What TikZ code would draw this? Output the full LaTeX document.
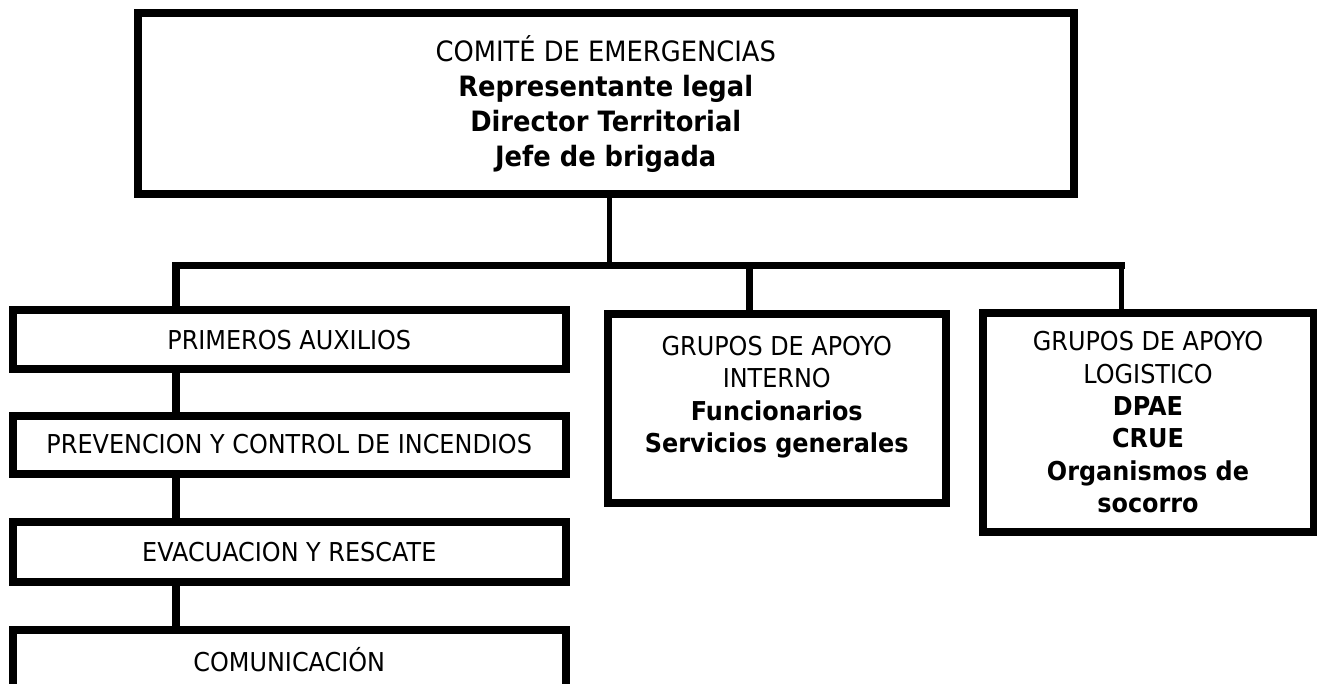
\documentclass[tikz,border=0pt]{standalone}
\usepackage{fontspec}
\setmainfont{DejaVu Sans}[FakeStretch=0.92]
\usetikzlibrary{positioning, calc}

\begin{document}
\begin{tikzpicture}[x=1pt, y=-1pt,
          every node/.style={align=center, inner sep=0pt},
          box/.style={draw, rectangle, line width=8pt},
          small/.style={font=\fontsize{26}{32.4}\selectfont},
          link/.style={line width=7.5pt},
          thinlink/.style={line width=5pt}]
          \useasboundingbox (0,0) rectangle (1317,684);

          \node[box, minimum width=936.5pt, minimum height=181.5pt,
                font=\fontsize{28}{35}\selectfont] (comite) at (605.75,103.75)
                {COMITÉ DE EMERGENCIAS\\ \textbf{Representante legal}\\
                 \textbf{Director Territorial}\\ \textbf{Jefe de brigada}};

          \node[box, small, minimum width=552.5pt, minimum height=59.5pt] (auxilios) at (289.25,339.75) {PRIMEROS AUXILIOS};
          \node[box, small, minimum width=552.5pt, minimum height=58pt] (incendios) at (289.25,444.5) {PREVENCION Y CONTROL DE INCENDIOS};
          \node[box, small, minimum width=552.5pt, minimum height=60pt] (evacuacion) at (289.25,552) {EVACUACION Y RESCATE};
          \node[box, small, minimum width=552.5pt, minimum height=59pt] (comunicacion) at (289.25,659.5) {COMUNICACIÓN};

          \node[box, minimum width=337.5pt, minimum height=189pt] (interno) at (776.75,408.5) {};
          \node[small, anchor=north] (internotxt) at ([yshift=-26pt]interno.north)
                {GRUPOS DE APOYO\\ INTERNO\\ \textbf{Funcionarios}\\ \textbf{Servicios generales}};

          \node[box, small, minimum width=331pt, minimum height=218.5pt] (logistico) at (1148,422.25)
                {GRUPOS DE APOYO\\ LOGISTICO\\ \textbf{DPAE}\\ \textbf{CRUE}\\
                 \textbf{Organismos de}\\ \textbf{socorro}};

          \coordinate (bus) at (609,265.5);
          \coordinate (busleft) at (176,265.5);
          \coordinate (busmid) at (749.5,265.5);
          \coordinate (busright) at (1121.5,265.5);

          \draw[thinlink] (comite.south -| bus) -- (bus);
          \draw[link, line cap=rect] (busleft) -- (busright);
          \draw[link] (busleft) -- (busleft |- auxilios.north);
          \draw[link] (busmid) -- (busmid |- interno.north);
          \draw[thinlink] (busright) -- (busright |- logistico.north);

          \draw[link, line width=8pt] (auxilios.south -| busleft) -- (incendios.north -| busleft);
          \draw[link, line width=8pt] (incendios.south -| busleft) -- (evacuacion.north -| busleft);
          \draw[link, line width=8pt] (evacuacion.south -| busleft) -- (comunicacion.north -| busleft);
        \end{tikzpicture}
\end{document}
